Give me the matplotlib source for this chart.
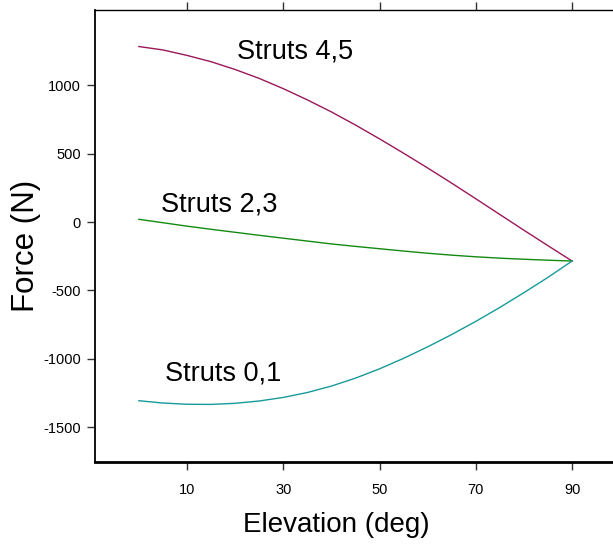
import matplotlib
matplotlib.use("Agg")
import matplotlib.pyplot as plt

elevation = [0, 5, 10, 15, 20, 25, 30, 35, 40, 45, 50, 55, 60, 65, 70, 75, 80, 85, 90]
struts_45 = [1283, 1258, 1218, 1172, 1115, 1050, 975, 893, 805, 709, 608, 503,
             395, 284, 170, 55, -60, -173, -285]
struts_23 = [20, -5, -30, -53, -75, -97, -118, -139, -160, -178, -195, -212,
             -228, -242, -254, -264, -272, -279, -285]
struts_01 = [-1306, -1323, -1332, -1333, -1325, -1308, -1282, -1246, -1199, -1141,
             -1073, -996, -912, -822, -726, -624, -516, -404, -285]

xticks = [10, 30, 50, 70, 90]
yticks = [-1500, -1000, -500, 0, 500, 1000]
labels = ["Struts 4,5", "Struts 2,3", "Struts 0,1"]

plt.rcParams['font.family'] = ['Liberation Sans', 'DejaVu Sans']
plt.rcParams['axes.unicode_minus'] = False

fig = plt.figure(figsize=(6.13, 5.46), dpi=100)
ax = fig.add_axes([95/613, 84/546, 518/613, 452/546])

ax.plot(elevation, struts_45, color='#99185a', lw=1.0)
ax.plot(elevation, struts_23, color='#128a12', lw=1.0)
ax.plot(elevation, struts_01, color='#179a9a', lw=1.0)

ax.text(20.4, 1199, labels[0], fontsize=19.5, va='baseline', ha='left')
ax.text(4.6, 80, labels[1], fontsize=19.5, va='baseline', ha='left')
ax.text(5.4, -1155, labels[2], fontsize=19.5, va='baseline', ha='left')

ax.set_xlim(-9.12, 98.5)
ax.set_ylim(-1754, 1550)
ax.set_xticks(xticks)
ax.set_yticks(yticks)
ax.tick_params(axis='both', direction='out', length=6, width=1, labelsize=10.5, pad=4, color='#333333')
ax.tick_params(axis='x', top=True, pad=9)

ax.spines['right'].set_visible(False)
ax.spines['left'].set_linewidth(1.3)
ax.spines['bottom'].set_linewidth(2.0)
ax.spines['top'].set_linewidth(1.0)

ax.set_xlabel("Elevation (deg)", fontsize=20)
ax.set_ylabel("Force (N)", fontsize=22.5)
ax.xaxis.set_label_coords(0.465, -0.111)
ax.yaxis.set_label_coords(-0.104, 0.478)

fig.savefig("out.png", dpi=100)
